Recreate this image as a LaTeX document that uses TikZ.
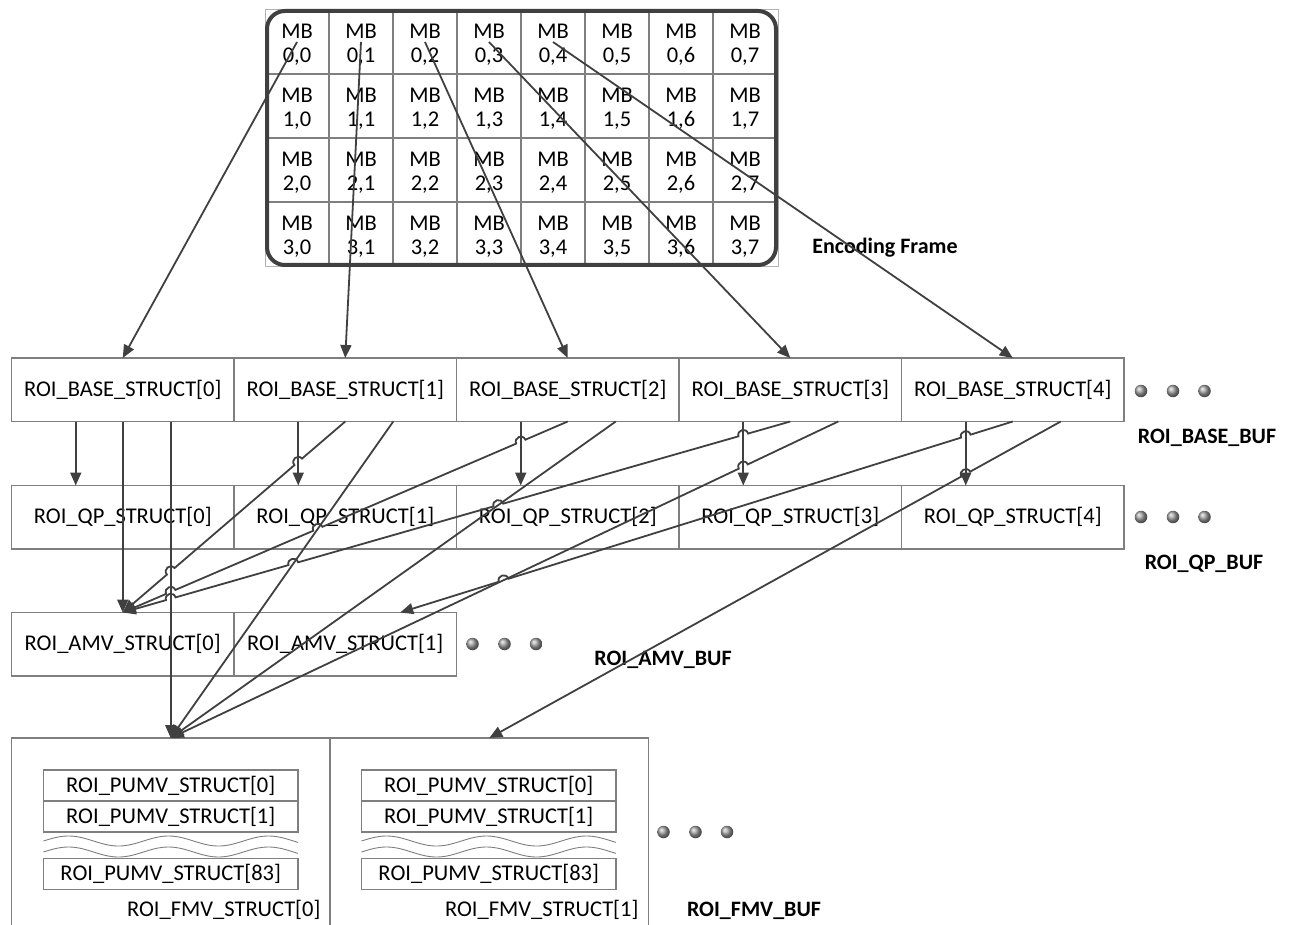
\documentclass[tikz,border=0pt]{standalone}
\usepackage{fontspec}
\setmainfont{Carlito}
\usetikzlibrary{arrows.meta,calc}
\definecolor{linec}{HTML}{404040}
\definecolor{boxc}{HTML}{7F7F7F}
\def\hr{5pt}
\newcommand\hopline[3]{%
  \foreach \f [count=\k] in {#3} {\path (#1) -- (#2) coordinate[pos=\f] (hp\k);}
  \draw[conn] (#1) foreach \f [count=\k] in {#3} { -- ($(hp\k)!\hr!(#1)$) to[bend right=90,looseness=1.7] ($(hp\k)!\hr!(#2)$) } -- (#2);
}
\begin{document}
\begin{tikzpicture}[x=1pt,y=-1pt,
  every node/.style={font=\fontsize{22.5}{24.5}\selectfont, text=black},
  box/.style={draw=boxc, line width=1.3pt, minimum width=222.5pt, minimum height=63.5pt, anchor=north west, inner sep=0pt, outer sep=0pt},
  celltext/.style={align=center, inner sep=0pt, outer sep=0pt, minimum size=64pt},
  pumv/.style={draw=boxc, line width=1.3pt, minimum width=254.5pt, minimum height=31pt, anchor=north west, inner sep=0pt, outer sep=0pt},
  conn/.style={draw=linec, line width=1.8pt, -{Triangle[length=13pt,width=11pt]}},
  lbl/.style={font=\bfseries\fontsize{22}{24}\selectfont},
  dot/.style={shading=ball, ball color=gray!75, circle, minimum size=12.5pt, inner sep=0pt},
  wave/.style={boxc, line width=0.9pt}
]
\useasboundingbox (0,0) rectangle (1290,925);
% encoding frame grid
\draw[gray!60, line width=0.8pt] (265,9) rectangle (778,266);
\foreach \c in {1,...,7} { \draw[boxc, line width=1.3pt] ({265+64*\c},10) -- ({265+64*\c},266); }
\foreach \r in {1,...,3} { \draw[boxc, line width=1.3pt] (265,{10+64*\r}) -- (777,{10+64*\r}); }
\foreach \r in {0,...,3} {
  \foreach \c in {0,...,7} {
    \node[celltext] (m\r\c) at ({297+64*\c},{44.5+64*\r}) {MB\\\r,\c};
  }
}
\draw[linec, line width=4pt, rounded corners=18pt] (267,11) rectangle (776,265);
\node[lbl] (enc) at (885,248) {Encoding Frame};
% buffers
\foreach \i/\x in {0/11.5,1/234,2/456.5,3/679,4/901.5} {
  \node[box] (b\i) at (\x,358) {ROI\_BASE\_STRUCT[\i]};
  \node[box] (q\i) at (\x,485.5) {ROI\_QP\_STRUCT[\i]};
}
\node[box] (a0) at (11.5,612.5) {ROI\_AMV\_STRUCT[0]};
\node[box] (a1) at (234,612.5) {ROI\_AMV\_STRUCT[1]};
\node[anchor=north west, minimum width=318.5pt, minimum height=187pt, inner sep=0pt, outer sep=0pt] (f0) at (11.5,738) {};
\node[anchor=north west, minimum width=318.5pt, minimum height=187pt, inner sep=0pt, outer sep=0pt] (f1) at (330,738) {};
\foreach \n in {f0,f1} {
  \draw[boxc, line width=1.3pt] (\n.south west) -- (\n.north west) -- (\n.north east) -- (\n.south east);
}
\foreach \n/\px in {0/43.5,1/361.5} {
  \node[pumv] (p\n a) at (\px,770) {ROI\_PUMV\_STRUCT[0]};
  \node[pumv] (p\n b) at (\px,801) {ROI\_PUMV\_STRUCT[1]};
  \node[pumv] (p\n c) at (\px,858.5) {ROI\_PUMV\_STRUCT[83]};
  \draw[wave] plot[domain=0:254.5, samples=120, smooth] ({\px+\x}, {841-5*sin(3.6*\x)});
  \draw[wave] plot[domain=0:254.5, samples=120, smooth] ({\px+\x}, {852-5*sin(3.6*\x)});
}
\node[anchor=east] (fl0) at (324,910) {ROI\_FMV\_STRUCT[0]};
\node[anchor=east] (fl1) at (642,910) {ROI\_FMV\_STRUCT[1]};
% dots
\foreach \y in {391,517} {
  \foreach \x in {1141,1173,1204.5} { \node[dot] at (\x,\y) {}; }
}
\foreach \x in {472.5,504.5,536} { \node[dot] at (\x,644) {}; }
\foreach \x in {663.5,695.5,727} { \node[dot] at (\x,832) {}; }
% labels
\node[lbl] (lb) at (1207,438) {ROI\_BASE\_BUF};
\node[lbl] (lq) at (1204,564) {ROI\_QP\_BUF};
\node[lbl] (la) at (663,660) {ROI\_AMV\_BUF};
\node[lbl] (lf) at (754,911) {ROI\_FMV\_BUF};
% exit points
\foreach \i in {0,...,4} {
  \coordinate (bL\i) at ($(b\i.south)+(-47,0)$);
  \coordinate (bR\i) at ($(b\i.south)+(48,0)$);
  \coordinate (qT\i) at ($(q\i.north)+(-47,0)$);
}
\coordinate (aT1) at ($(a1.north)+(55,0)$);
\foreach \c in {0,...,4} { \coordinate (ms\c) at ($(m0\c.center)+(0,-2.5)$); }
% grid to base
\foreach \c in {0,...,4} { \draw[conn] (ms\c) -- (b\c.north); }
% base to qp
\foreach \i in {0,...,4} { \draw[conn] (bL\i) -- (qT\i); }
\draw[conn] (b0.south) -- (a0.north);
\draw[conn] (bR0) -- (f0.north);
\draw[conn] (bR1) -- (f0.north);
\draw[conn] (bR2) -- (f0.north);
\hopline{b1.south}{a0.north}{0.2113,0.7843}
\hopline{b2.south}{a0.north}{0.1056,0.5616,0.8922}
\hopline{b3.south}{a0.north}{0.0704,0.4374,0.7445,0.9281}
\hopline{bR3}{f0.north}{0.1423}
\hopline{b4.south}{aT1}{0.0767,0.8313}
\hopline{bR4}{f1.north}{0.1662}
\end{tikzpicture}
\end{document}
